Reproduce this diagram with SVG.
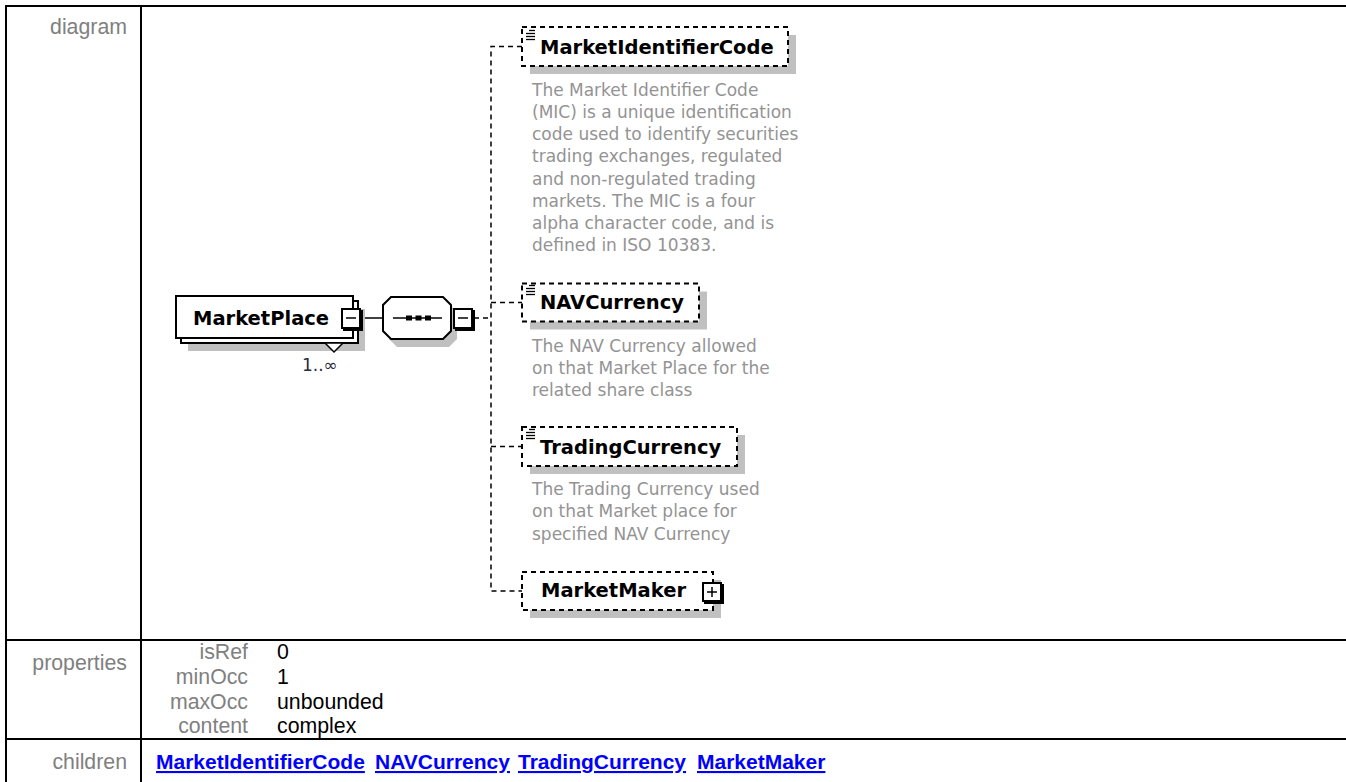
<svg xmlns="http://www.w3.org/2000/svg" width="1346" height="782" viewBox="0 0 1346 782">
<style>
.frame{stroke:#000;stroke-width:2;fill:none}
.lbl{font-family:"Liberation Sans",Arial,sans-serif;font-size:21.3px;fill:#808080}
.val{font-family:"Liberation Sans",Arial,sans-serif;font-size:21.3px;fill:#000}
.link{font-family:"Liberation Sans",Arial,sans-serif;font-size:21px;font-weight:bold;fill:#0000ff;text-decoration:underline}
.title{font-family:"DejaVu Sans",Verdana,sans-serif;font-size:19.5px;font-weight:bold;fill:#000}
.desc{font-family:"DejaVu Sans",Verdana,sans-serif;font-size:17px;fill:#939393}
.occ{font-family:"DejaVu Sans",Verdana,sans-serif;font-size:17px;fill:#2a2a3a}
.shadow{fill:#c0c0c0}
.dbox{fill:#fff;stroke:#000;stroke-width:2;stroke-dasharray:5 4}
.sbox{fill:#fff;stroke:#000;stroke-width:2}
.conn{stroke:#000;stroke-width:1.5;fill:none;stroke-dasharray:5 4}
.solid{stroke:#000;stroke-width:1.5;fill:none}
.icon{stroke:#000;stroke-width:1.3}
</style>
<defs>
<g id="listicon">
<line class="icon" x1="3" y1="0.5" x2="9" y2="0.5"/>
<line class="icon" x1="0" y1="3.5" x2="9" y2="3.5"/>
<line class="icon" x1="0" y1="6.5" x2="9" y2="6.5"/>
<line class="icon" x1="0" y1="9.5" x2="9" y2="9.5"/>
</g>
</defs>

<g id="table">
<line class="frame" x1="6" y1="6" x2="1346" y2="6"/>
<line class="frame" x1="6" y1="5" x2="6" y2="782"/>
<line class="frame" x1="141" y1="5" x2="141" y2="782"/>
<line class="frame" x1="5" y1="640" x2="1346" y2="640"/>
<line class="frame" x1="5" y1="739" x2="1346" y2="739"/>
<text class="lbl" x="127" y="34" text-anchor="end">diagram</text>
<text class="lbl" x="127" y="670" text-anchor="end">properties</text>
<text class="lbl" x="248" y="659" text-anchor="end">isRef</text>
<text class="lbl" x="248" y="684" text-anchor="end">minOcc</text>
<text class="lbl" x="248" y="708.5" text-anchor="end">maxOcc</text>
<text class="lbl" x="248" y="733" text-anchor="end">content</text>
<text class="val" x="277" y="659">0</text>
<text class="val" x="277" y="684">1</text>
<text class="val" x="277" y="708.5">unbounded</text>
<text class="val" x="277" y="733">complex</text>
<text class="lbl" x="127" y="768.5" text-anchor="end">children</text>
<text class="link" x="156" y="769">MarketIdentifierCode</text>
<text class="link" x="375" y="769">NAVCurrency</text>
<text class="link" x="518" y="769">TradingCurrency</text>
<text class="link" x="697" y="769">MarketMaker</text>
</g>

<g id="connectors">
<line class="solid" x1="362" y1="318" x2="383" y2="318"/>
<line class="conn" x1="474" y1="318" x2="491" y2="318"/>
<path class="conn" d="M522 46.5 H491 V591 H522"/>
<line class="conn" x1="491" y1="302.5" x2="522" y2="302.5"/>
<line class="conn" x1="491" y1="446.5" x2="522" y2="446.5"/>
</g>

<g id="MarketPlace">
<rect class="shadow" x="188" y="309" width="177" height="42"/>
<rect class="sbox" x="181" y="301" width="177" height="42"/>
<rect class="sbox" x="176" y="296" width="177" height="42"/>
<text class="title" x="193" y="325">MarketPlace</text>
<polygon points="325,343 343,343 334,352" fill="#fff" stroke="#000" stroke-width="1.5"/>
<text class="occ" x="302" y="371">1..∞</text>
<rect x="343" y="310" width="20" height="21" fill="#000"/>
<rect x="342" y="309" width="18" height="19" fill="#fff" stroke="#000" stroke-width="2"/>
<line x1="346" y1="318" x2="356" y2="318" stroke="#000" stroke-width="1.5"/>
</g>

<g id="sequence">
<polygon class="shadow" points="397,304 449,304 457,312 457,339 449,347 397,347 389,339 389,312"/>
<polygon class="sbox" points="391,297 443,297 451,305 451,331 443,339 391,339 383,331 383,305"/>
<line class="solid" x1="393" y1="318" x2="442" y2="318"/>
<rect x="406" y="315.5" width="6" height="5" fill="#000"/>
<rect x="415.5" y="315.5" width="6" height="5" fill="#000"/>
<rect x="425" y="315.5" width="6" height="5" fill="#000"/>
<rect x="455" y="310" width="20" height="21" fill="#000"/>
<rect x="454" y="309" width="18" height="19" fill="#fff" stroke="#000" stroke-width="2"/>
<line x1="458" y1="318" x2="468" y2="318" stroke="#000" stroke-width="1.5"/>
</g>

<g id="MarketIdentifierCode">
<rect class="shadow" x="530" y="35" width="266" height="39"/>
<rect class="dbox" x="522" y="27" width="266" height="39"/>
<use href="#listicon" x="526" y="30"/>
<text class="title" x="540" y="53.5">MarketIdentifierCode</text>
<text class="desc" x="532" y="96.3">The Market Identifier Code</text>
<text class="desc" x="532" y="118.3">(MIC) is a unique identification</text>
<text class="desc" x="532" y="140.4">code used to identify securities</text>
<text class="desc" x="532" y="162.4">trading exchanges, regulated</text>
<text class="desc" x="532" y="184.5">and non-regulated trading</text>
<text class="desc" x="532" y="206.5">markets. The MIC is a four</text>
<text class="desc" x="532" y="228.5">alpha character code, and is</text>
<text class="desc" x="532" y="250.6">defined in ISO 10383.</text>
</g>

<g id="NAVCurrency">
<rect class="shadow" x="530" y="291.5" width="177" height="38"/>
<rect class="dbox" x="522" y="283.5" width="177" height="38"/>
<use href="#listicon" x="526" y="285"/>
<text class="title" x="540" y="309">NAVCurrency</text>
<text class="desc" x="532" y="352">The NAV Currency allowed</text>
<text class="desc" x="532" y="374">on that Market Place for the</text>
<text class="desc" x="532" y="396">related share class</text>
</g>

<g id="TradingCurrency">
<rect class="shadow" x="530" y="435" width="215" height="39"/>
<rect class="dbox" x="522" y="427" width="215" height="39"/>
<use href="#listicon" x="526" y="429"/>
<text class="title" x="540" y="453.5">TradingCurrency</text>
<text class="desc" x="532" y="495.2">The Trading Currency used</text>
<text class="desc" x="532" y="517.2">on that Market place for</text>
<text class="desc" x="532" y="539.5">specified NAV Currency</text>
</g>

<g id="MarketMaker">
<rect class="shadow" x="530" y="580" width="191" height="38"/>
<rect class="dbox" x="522" y="572" width="191" height="38"/>
<text class="title" x="541" y="597">MarketMaker</text>
<rect x="704" y="584" width="20" height="20" fill="#000"/>
<rect x="703" y="583" width="18" height="18" fill="#fff" stroke="#000" stroke-width="2"/>
<line x1="707" y1="592" x2="717" y2="592" stroke="#000" stroke-width="1.5"/>
<line x1="712" y1="587" x2="712" y2="597" stroke="#000" stroke-width="1.5"/>
</g>
</svg>
